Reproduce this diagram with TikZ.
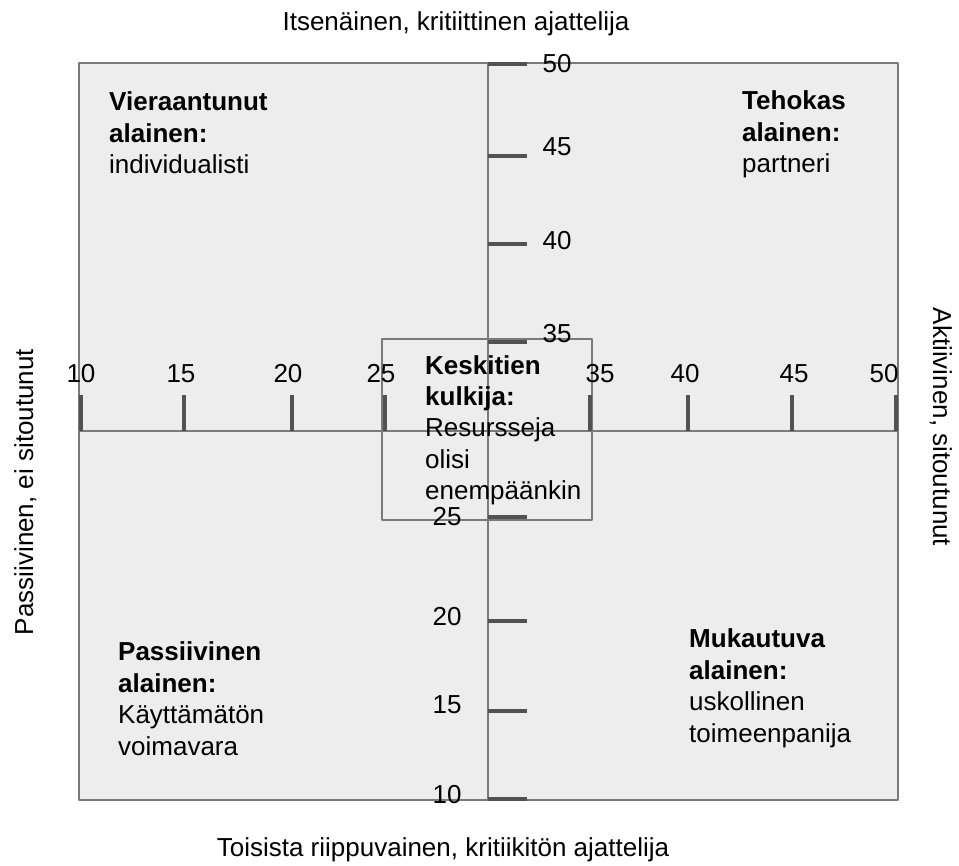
\documentclass[tikz,border=0pt]{standalone}
\usepackage{fontspec}
\setmainfont{Liberation Sans}
\usetikzlibrary{positioning}
\begin{document}
\begin{tikzpicture}[
  x=1pt, y=-1pt,
  font=\fontsize{26}{31.5}\selectfont,
  line join=round,
  outerbox/.style={draw=black!52, line width=1.6pt, fill=black!7},
  innerbox/.style={draw=black!52, line width=1.3pt},
  axisline/.style={draw=black!52, line width=1.6pt},
  tickmark/.style={draw=black!68, line width=4pt},
  num/.style={inner sep=0pt, anchor=base},
  vnum/.style={inner sep=0pt, anchor=center},
  quad/.style={align=left, anchor=base west, inner sep=0pt},
  side/.style={inner sep=0pt, anchor=base}
]
\useasboundingbox (0,0) rectangle (959,866);
\def\xA{488}
\def\yA{431}
% box and axes
\draw[outerbox] (79,63) rectangle (898,800);
\draw[axisline] (\xA,63) -- (\xA,800);
\draw[axisline] (79,\yA) -- (898,\yA);
\draw[innerbox] (382,339) rectangle (592,520);
% horizontal ticks
\draw[tickmark] (81,395) -- (81,\yA);
\draw[tickmark] (184,395) -- (184,\yA);
\draw[tickmark] (292,395) -- (292,\yA);
\draw[tickmark] (385,395) -- (385,\yA);
\draw[tickmark] (590,395) -- (590,\yA);
\draw[tickmark] (688,395) -- (688,\yA);
\draw[tickmark] (792,395) -- (792,\yA);
\draw[tickmark] (896,395) -- (896,\yA);
% vertical ticks
\draw[tickmark] (\xA,64) -- (527,64);
\draw[tickmark] (\xA,156) -- (527,156);
\draw[tickmark] (\xA,244) -- (527,244);
\draw[tickmark] (\xA,342) -- (527,342);
\draw[tickmark] (\xA,517) -- (527,517);
\draw[tickmark] (\xA,621) -- (527,621);
\draw[tickmark] (\xA,711) -- (527,711);
\draw[tickmark] (\xA,799) -- (527,799);
% scale numbers
\node[num] (h10) at (81,383)  {10};
\node[num] (h15) at (181,383) {15};
\node[num] (h20) at (288,383) {20};
\node[num] (h25) at (381,383) {25};
\node[num] (h35) at (600,383) {35};
\node[num] (h40) at (685,383) {40};
\node[num] (h45) at (794,383) {45};
\node[num] (h50) at (884,383) {50};
\node[vnum] (v50) at (557,64)  {50};
\node[vnum] (v45) at (557,147) {45};
\node[vnum] (v40) at (557,241) {40};
\node[vnum] (v35) at (557,334) {35};
\node[vnum] (v25) at (447,517) {25};
\node[vnum] (v20) at (447,617) {20};
\node[vnum] (v15) at (447,705) {15};
\node[vnum] (v10) at (447,795) {10};
% quadrant texts (anchored at the last line)
\node[quad] (vieras) at (109,174)
  {\textbf{Vieraantunut}\\\textbf{alainen:}\\individualisti};
\node[quad] (tehokas) at (742,173)
  {\textbf{Tehokas}\\\textbf{alainen:}\\partneri};
\node[quad] (keski) at (425,500)
  {\textbf{Keskitien}\\\textbf{kulkija:}\\Resursseja\\olisi\\enempäänkin};
\node[quad] (passiiv) at (118,755)
  {\textbf{Passiivinen}\\\textbf{alainen:}\\Käyttämätön\\voimavara};
\node[quad] (mukaut) at (689,742)
  {\textbf{Mukautuva}\\\textbf{alainen:}\\uskollinen\\toimeenpanija};
% axis titles
\node[side] (top) at (456,31) {Itsenäinen, kritiittinen ajattelija};
\node[side] (bottom) at (443,856) {Toisista riippuvainen, kritiikitön ajattelija};
\node[side, rotate=90] (left) at (33,492) {Passiivinen, ei sitoutunut};
\node[side, rotate=-90] (right) at (933,427) {Aktiivinen, sitoutunut};
\end{tikzpicture}
\end{document}
